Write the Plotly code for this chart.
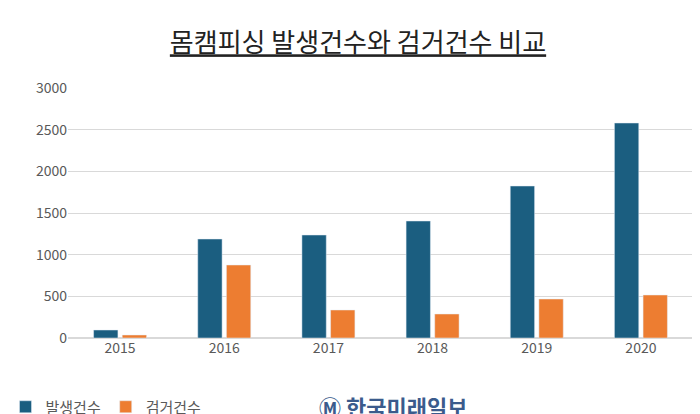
import plotly.graph_objects as go

years = ["2015", "2016", "2017", "2018", "2019", "2020"]
occurred = [96, 1188, 1236, 1404, 1824, 2580]
arrested = [36, 876, 336, 288, 468, 516]

fig = go.Figure()
fig.add_trace(go.Bar(x=years, y=occurred, name="발생건수", marker_color="#1b5e80"))
fig.add_trace(go.Bar(x=years, y=arrested, name="검거건수", marker_color="#ed7d31"))

fig.update_layout(
    width=700, height=414,
    font=dict(family="Noto Sans CJK KR", color="#595959", size=13),
    title=dict(text="<u>몸캠피싱 발생건수와 검거건수 비교</u>", x=0.5, xanchor="center",
               y=0.915, yanchor="middle", font=dict(size=26, color="#222222")),
    plot_bgcolor="white", paper_bgcolor="white",
    margin=dict(l=60, r=15, t=80, b=84, autoexpand=False),
    barmode="group", bargap=0.45, bargroupgap=0.15,
    yaxis=dict(range=[0, 3000], dtick=500, gridcolor="#d9d9d9", zeroline=True,
               zerolinecolor="#d9d9d9", tickfont=dict(size=14)),
    xaxis=dict(tickfont=dict(size=14)),
    legend=dict(orientation="h", x=-0.1, y=-0.21, xanchor="left", yanchor="top",
                font=dict(size=15)),
)
fig.add_annotation(text="<b>Ⓜ 한국미래일보</b>", xref="paper", yref="paper", x=0.52, y=-0.2,
                   xanchor="center", yanchor="top", showarrow=False,
                   font=dict(size=22, color="#3b5b8c"))
fig.write_html("out.html")
